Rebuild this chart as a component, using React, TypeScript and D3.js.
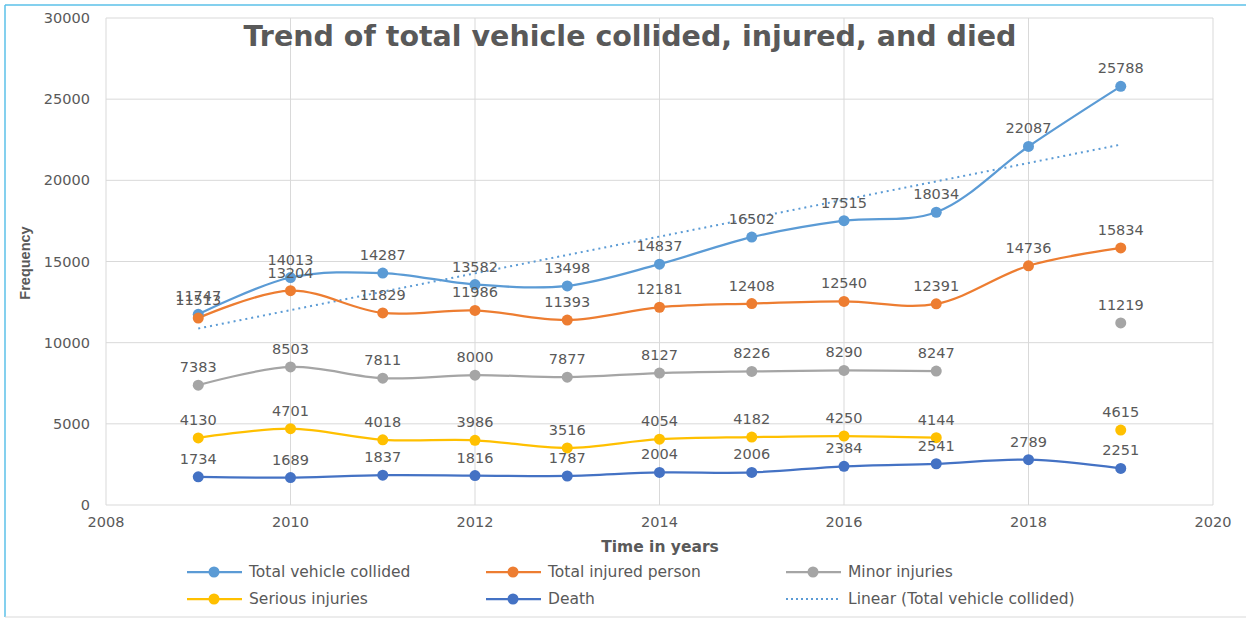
import React from "react";
import * as d3 from "d3";

const years = [2009, 2010, 2011, 2012, 2013, 2014, 2015, 2016, 2017, 2018, 2019];
const totalCollided = [11747, 14013, 14287, 13582, 13498, 14837, 16502, 17515, 18034, 22087, 25788];
const totalInjured = [11513, 13204, 11829, 11986, 11393, 12181, 12408, 12540, 12391, 14736, 15834];
const minorInjuries: (number | null)[] = [7383, 8503, 7811, 8000, 7877, 8127, 8226, 8290, 8247, null, 11219];
const seriousInjuries: (number | null)[] = [4130, 4701, 4018, 3986, 3516, 4054, 4182, 4250, 4144, null, 4615];
const deaths = [1734, 1689, 1837, 1816, 1787, 2004, 2006, 2384, 2541, 2789, 2251];
const xTicks = [2008, 2010, 2012, 2014, 2016, 2018, 2020];
const yTicks = [0, 5000, 10000, 15000, 20000, 25000, 30000];

const seriesList = [
  { name: "Total vehicle collided", values: totalCollided as (number | null)[], color: "#5B9BD5" },
  { name: "Total injured person", values: totalInjured as (number | null)[], color: "#ED7D31" },
  { name: "Minor injuries", values: minorInjuries, color: "#A5A5A5" },
  { name: "Serious injuries", values: seriousInjuries, color: "#FFC000" },
  { name: "Death", values: deaths as (number | null)[], color: "#4472C4" },
];

const FONT = "'DejaVu Sans', sans-serif";
const TXT = "#595959";

export default function App() {
  const x = d3.scaleLinear().domain([2008, 2020]).range([106, 1213]);
  const y = d3.scaleLinear().domain([0, 30000]).range([505, 18]);

  // linear trendline (least squares) on total vehicle collided
  const mx = d3.mean(years)!;
  const my = d3.mean(totalCollided)!;
  const slope =
    d3.sum(years.map((yr, i) => (yr - mx) * (totalCollided[i] - my))) /
    d3.sum(years.map((yr) => (yr - mx) ** 2));
  const icpt = my - slope * mx;
  const x0 = years[0];
  const x1 = years[years.length - 1];

  const line = d3
    .line<number | null>()
    .defined((d) => d !== null)
    .x((_, i) => x(years[i]))
    .y((d) => y(d as number))
    .curve(d3.curveCatmullRom.alpha(0.5));

  const legendCols = [187, 486, 786];
  const legendRows = [572, 599];
  const legendItems = [
    ...seriesList.map((s) => ({ name: s.name, color: s.color, dotted: false })),
    { name: "Linear (Total vehicle collided)", color: "#5B9BD5", dotted: true },
  ];

  return (
    <svg
      width={1246}
      height={619}
      style={{ position: "absolute", left: 0, top: 0, background: "#fff" }}
      fontFamily={FONT}
    >
      {/* frame */}
      <line x1={5} y1={5} x2={1246} y2={5} stroke="#5BC0E8" strokeWidth={1.5} />
      <line x1={5} y1={5} x2={5} y2={617} stroke="#5BC0E8" strokeWidth={1.5} />
      <line x1={5} y1={617} x2={1246} y2={617} stroke="#D9D9D9" strokeWidth={1} />

      {/* gridlines */}
      {yTicks.map((t) => (
        <line key={"gy" + t} x1={x(2008)} x2={x(2020)} y1={y(t)} y2={y(t)} stroke="#D9D9D9" strokeWidth={1} />
      ))}
      {xTicks.map((t) => (
        <line key={"gx" + t} x1={x(t)} x2={x(t)} y1={y(0)} y2={y(30000)} stroke="#D9D9D9" strokeWidth={1} />
      ))}

      {/* axis tick labels */}
      {yTicks.map((t) => (
        <text key={"ty" + t} x={90} y={y(t)} dy="0.35em" textAnchor="end" fontSize={14.5} fill={TXT}>
          {t}
        </text>
      ))}
      {xTicks.map((t) => (
        <text key={"tx" + t} x={x(t)} y={527} textAnchor="middle" fontSize={14.5} fill={TXT}>
          {t}
        </text>
      ))}

      {/* title */}
      <text x={630} y={46} textAnchor="middle" fontSize={28.5} fontWeight="bold" fill={TXT}>
        Trend of total vehicle collided, injured, and died
      </text>

      {/* axis titles */}
      <text x={660} y={552} textAnchor="middle" fontSize={15.5} fontWeight="bold" fill={TXT}>
        Time in years
      </text>
      <text
        transform={`translate(30,${263}) rotate(-90)`}
        textAnchor="middle"
        fontSize={14.5}
        fontWeight="bold"
        fill={TXT}
        fontFamily="'Liberation Sans Narrow', 'Liberation Sans', sans-serif"
      >
        Frequency
      </text>

      {/* trendline */}
      <line
        x1={x(x0)}
        x2={x(x1)}
        y1={y(icpt + slope * x0)}
        y2={y(icpt + slope * x1)}
        stroke="#5B9BD5"
        strokeWidth={2}
        strokeDasharray="2 4"
      />

      {/* series lines */}
      {seriesList.map((s) => (
        <path key={"l" + s.name} d={line(s.values) || ""} fill="none" stroke={s.color} strokeWidth={2.25} />
      ))}

      {/* markers */}
      {seriesList.map((s) =>
        s.values.map((v, i) =>
          v === null ? null : (
            <circle key={"m" + s.name + i} cx={x(years[i])} cy={y(v)} r={5.5} fill={s.color} />
          )
        )
      )}

      {/* data labels */}
      {seriesList.map((s) =>
        s.values.map((v, i) =>
          v === null ? null : (
            <text
              key={"d" + s.name + i}
              x={x(years[i])}
              y={y(v) - 13}
              textAnchor="middle"
              fontSize={14.5}
              fill={TXT}
            >
              {v}
            </text>
          )
        )
      )}

      {/* legend */}
      {legendItems.map((it, k) => {
        const lx = legendCols[k % 3];
        const ly = legendRows[Math.floor(k / 3)];
        return (
          <g key={"lg" + k}>
            <line
              x1={lx}
              x2={lx + 55}
              y1={ly}
              y2={ly}
              stroke={it.color}
              strokeWidth={it.dotted ? 2 : 2.25}
              strokeDasharray={it.dotted ? "2 3" : undefined}
            />
            {!it.dotted && <circle cx={lx + 27} cy={ly} r={5.5} fill={it.color} />}
            <text x={lx + 62} y={ly} dy="0.35em" fontSize={15.5} fill={TXT}>
              {it.name}
            </text>
          </g>
        );
      })}
    </svg>
  );
}
